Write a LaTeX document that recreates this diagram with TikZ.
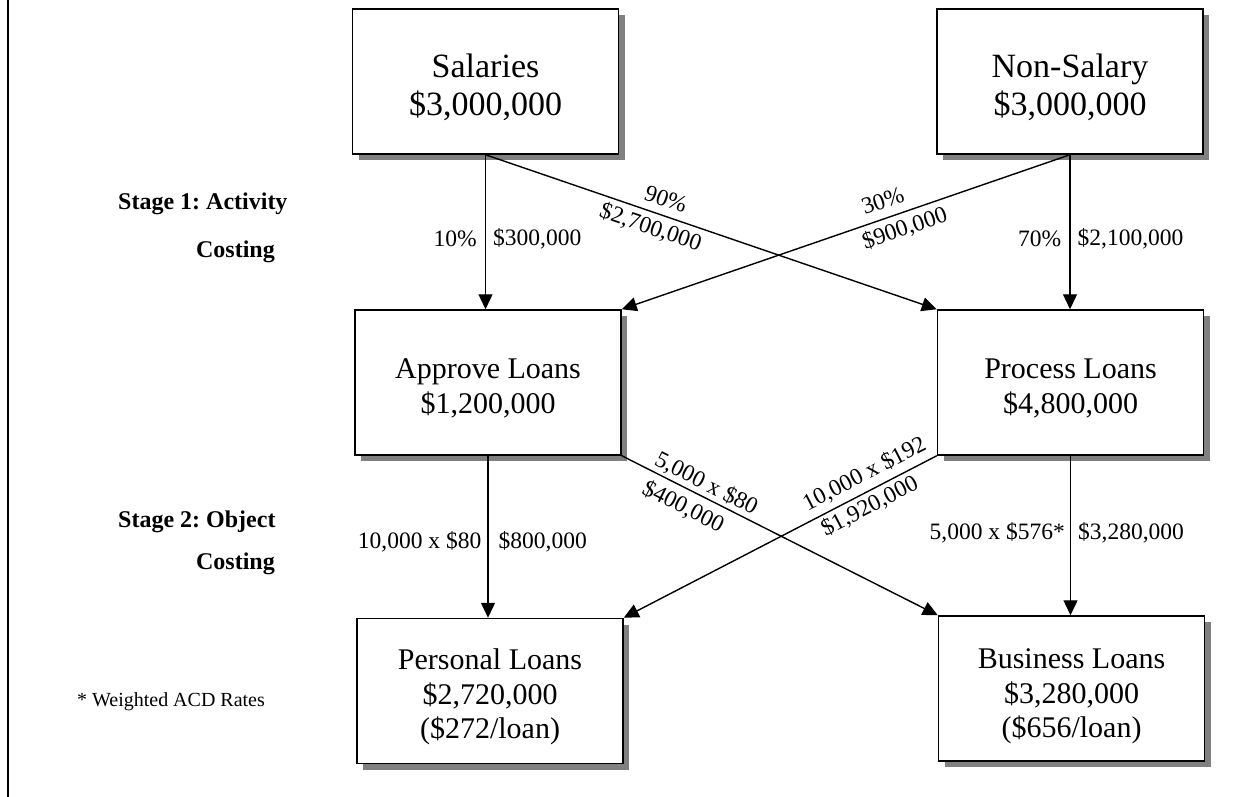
\documentclass[tikz,border=0pt]{standalone}
\usepackage{fontspec}
\setmainfont{Liberation Serif}
\usetikzlibrary{arrows.meta,shadows}
\definecolor{shadowgray}{RGB}{128,128,128}
\frenchspacing
\begin{document}
\begin{tikzpicture}[x=1pt,y=-1pt,
  costbox/.style={draw=black, line width=1.5pt, fill=white,
    minimum width=266pt, minimum height=145pt, inner sep=0pt,
    drop shadow={shadow xshift=6pt, shadow yshift=-6pt, fill=shadowgray, opacity=1}},
  bigtext/.style={font=\fontsize{34}{38}\selectfont, align=center, inner sep=0pt},
  midtext/.style={font=\fontsize{30}{34.5}\selectfont, align=center, inner sep=0pt},
  flow/.style={line width=1.4pt, -{Triangle[length=15pt,width=14pt]}},
  lbl/.style={font=\fontsize{23.5}{26}\selectfont, inner sep=0pt},
  stagetext/.style={font=\fontsize{24}{28}\selectfont\bfseries, inner sep=0pt},
  ]
\useasboundingbox (0,0) rectangle (1244,797);
\fill[white] (0,0) rectangle (1244,797);

% frame line on the left
\coordinate (frametop) at (7.5,0);
\coordinate (framebot) at (7.5,797);
\draw[line width=2pt] (frametop) -- (framebot);

% cost pools
\node[costbox] (sal) at (485.5,81.5) {};
\node[costbox] (non) at (1070,81.5) {};
% activities
\node[costbox] (app) at (488,382.5) {};
\node[costbox] (pro) at (1070.5,382.5) {};
% cost objects
\node[costbox] (per) at (490,691) {};
\node[costbox] (bus) at (1071.5,688.5) {};

% box contents
\node[bigtext] (sal-t) at ([yshift=-6pt]sal.center) {Salaries\\\$3,000,000};
\node[bigtext] (non-t) at ([yshift=-6pt]non.center) {Non-Salary\\\$3,000,000};
\node[midtext] (app-t) at ([yshift=-6pt]app.center) {Approve Loans\\\$1,200,000};
\node[midtext] (pro-t) at ([yshift=-6pt]pro.center) {Process Loans\\\$4,800,000};
\node[midtext] (per-t) at ([yshift=-6pt]per.center) {Personal Loans\\\$2,720,000\\(\$272/loan)};
\node[midtext] (bus-t) at ([yshift=-8pt]bus.center) {Business Loans\\\$3,280,000\\(\$656/loan)};

% stage captions
\node[stagetext, anchor=base west] (s1a) at (118,209) {Stage 1: Activity};
\node[stagetext, anchor=base east] (s1b) at (275,257) {Costing};
\node[stagetext, anchor=base west] (s2a) at (118,527) {Stage 2: Object};
\node[stagetext, anchor=base east] (s2b) at (275,569) {Costing};
\node[font=\fontsize{20}{22}\selectfont] (note) at (171,702) {* Weighted ACD Rates};

% stage 1 flows
\draw[flow] (sal.south) -- (sal.south |- app.north)
  node[lbl, pos=0.545, left=8pt] {10\%}
  node[lbl, pos=0.545, right=7pt] {\$300,000};
\draw[flow] (sal.south) -- (pro.north west)
  node[lbl, pos=0.388, sloped, above=8pt] {90\%}
  node[lbl, pos=0.377, sloped, below=4.5pt] {\$2,700,000};
\draw[flow] (non.south) -- (app.north east)
  node[lbl, pos=0.405, sloped, above=9pt] {30\%}
  node[lbl, pos=0.38, sloped, below=5pt] {\$900,000};
\draw[flow] (non.south) -- (non.south |- pro.north)
  node[lbl, pos=0.545, left=8pt] {70\%}
  node[lbl, pos=0.545, right=7pt] {\$2,100,000};

% stage 2 flows
\draw[flow] (app.south) -- (app.south |- per.north)
  node[lbl, pos=0.53, left=6pt] {10,000 x \$80}
  node[lbl, pos=0.53, right=10pt] {\$800,000};
\draw[flow] (app.south east) -- (bus.north west)
  node[lbl, pos=0.249, sloped, above=2pt] {5,000 x \$80}
  node[lbl, pos=0.22, sloped, below=7pt] {\$400,000};
\draw[flow] (pro.south west) -- (per.north east)
  node[lbl, pos=0.206, sloped, above=6pt] {10,000 x \$192}
  node[lbl, pos=0.235, sloped, below=3pt] {\$1,920,000};
\draw[flow] (pro.south) -- (pro.south |- bus.north)
  node[lbl, pos=0.48, left=5pt] {5,000 x \$576*}
  node[lbl, pos=0.48, right=7pt] {\$3,280,000};
\end{tikzpicture}
\end{document}
